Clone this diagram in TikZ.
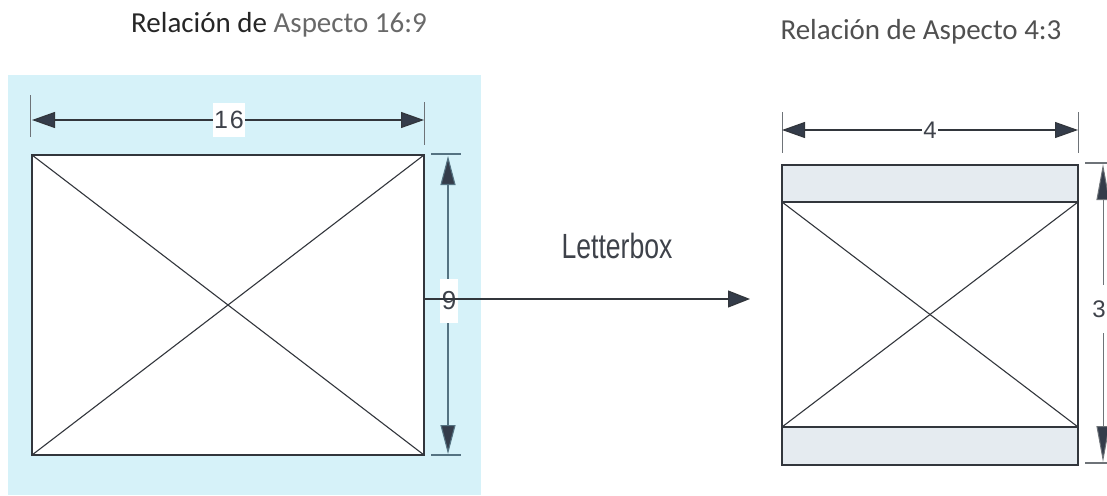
\documentclass[tikz,border=0pt]{standalone}
\usepackage{fontspec}
\setmainfont{Carlito}
\newfontfamily\arialf{Liberation Sans}
\usetikzlibrary{arrows.meta}
\definecolor{bgcyan}{RGB}{214,242,249}
\definecolor{barfill}{RGB}{229,235,240}
\definecolor{lineDark}{RGB}{50,54,60}
\definecolor{tipDark}{RGB}{52,60,74}
\definecolor{dimBlue}{RGB}{85,115,130}
\definecolor{extGray}{RGB}{110,115,120}
\definecolor{titleDark}{RGB}{38,38,38}
\definecolor{titleLight}{RGB}{105,105,105}
\definecolor{titleMid}{RGB}{80,80,80}
\definecolor{labelGray}{RGB}{62,66,74}
\tikzset{
  boxline/.style={draw=lineDark, line width=1.5pt},
  diagline/.style={draw=lineDark, line width=1.1pt},
  hdim/.style={draw=lineDark, line width=1.2pt, {Triangle[length=23pt,width=16pt,fill=tipDark]}-{Triangle[length=23pt,width=16pt,fill=tipDark]}},
  vdimA/.style={draw=dimBlue, line width=1.1pt, {Triangle[length=29pt,width=15pt,fill=tipDark]}-{Triangle[length=29pt,width=15pt,fill=tipDark]}},
  vdimB/.style={draw=extGray, line width=1pt, {Triangle[length=36pt,width=13pt,fill=tipDark]}-{Triangle[length=36pt,width=13pt,fill=tipDark]}},
  mainarrow/.style={draw=lineDark, line width=1.3pt, -{Triangle[length=22pt,width=17pt,fill=tipDark]}},
  extline/.style={draw=extGray, line width=0.9pt},
  tickA/.style={draw=dimBlue, line width=1.6pt},
  tickB/.style={draw=extGray, line width=1.2pt},
  dimlabel/.style={inner sep=1.5pt, text=labelGray, font=\arialf\fontsize{25}{28}\selectfont},
  titlestyle/.style={inner sep=0pt, anchor=base, font=\fontsize{29}{32}\selectfont},
}
\begin{document}
\begin{tikzpicture}[x=1pt,y=-1pt]
\useasboundingbox (0,0) rectangle (1107,495);
% cyan background
\fill[bgcyan] (8,75) rectangle (481,495);

% titles
\node[titlestyle] (t1) at (279,33) {\textcolor{titleDark}{Relación de} \textcolor{titleLight}{Aspecto 16:9}};
\node[titlestyle, text=titleMid] (t2) at (921,40) {Relación de Aspecto 4:3};

% left 16:9 box
\coordinate (L1) at (32,155);
\coordinate (L2) at (424,155);
\coordinate (L3) at (424,455);
\coordinate (L4) at (32,455);
\fill[white] (L1) rectangle (L3);
\draw[diagline] (L1) -- (L3);
\draw[diagline] (L4) -- (L2);
\draw[boxline] (L1) rectangle (L3);

% width dimension 16
\coordinate (e1a) at (30,95);
\coordinate (e1b) at (30,137);
\coordinate (e2a) at (424,102);
\coordinate (e2b) at (424,145);
\draw[extline] (e1a) -- (e1b);
\draw[extline] (e2a) -- (e2b);
\coordinate (d16a) at (32,120);
\coordinate (d16b) at (424,120);
\draw[hdim] (d16a) -- (d16b);
\node[dimlabel, fill=white, minimum height=34pt] (n16) at (229,120) {1\kern2pt6};

% height dimension 9
\coordinate (k1a) at (431,154);
\coordinate (k1b) at (461,154);
\coordinate (k2a) at (431,455);
\coordinate (k2b) at (461,455);
\draw[tickA] (k1a) -- (k1b);
\draw[tickA] (k2a) -- (k2b);
\coordinate (d9a) at (448,156);
\coordinate (d9b) at (448,454);
\draw[vdimA] (d9a) -- (d9b);
\node[dimlabel, fill=white, minimum height=44pt, inner xsep=2pt, font=\arialf\fontsize{26}{28}\selectfont] (n9) at (449,301) {9};

% letterbox arrow
\coordinate (arrS) at (424,299);
\coordinate (arrE) at (750,299);
\draw[mainarrow] (arrS) -- (arrE);
\node[inner sep=0pt, text=labelGray, font=\arialf\fontsize{35}{38}\selectfont] (lb) at (617,246) {\scalebox{0.76}[1]{Letterbox}};

% right 4:3 box
\coordinate (R1) at (782,165);
\coordinate (R2) at (1078,165);
\coordinate (R3) at (1078,465);
\coordinate (R4) at (782,465);
\coordinate (B1) at (1078,202);
\coordinate (B2) at (782,202);
\coordinate (B3) at (782,427);
\coordinate (B4) at (1078,427);
\fill[barfill] (R1) rectangle (B1);
\fill[barfill] (B3) rectangle (R3);
\draw[diagline] (B2) -- (B4);
\draw[diagline] (B3) -- (B1);
\draw[boxline] (B2) -- (B1);
\draw[boxline] (B3) -- (B4);
\draw[boxline] (R1) rectangle (R3);

% width dimension 4
\coordinate (f1a) at (782,112);
\coordinate (f1b) at (782,153);
\coordinate (f2a) at (1078,112);
\coordinate (f2b) at (1078,153);
\draw[extline] (f1a) -- (f1b);
\draw[extline] (f2a) -- (f2b);
\coordinate (d4a) at (782,130);
\coordinate (d4b) at (1078,130);
\draw[hdim] (d4a) -- (d4b);
\node[dimlabel, fill=white, font=\arialf\fontsize{24}{26}\selectfont] (n4) at (930,130) {4};

% height dimension 3
\coordinate (m1a) at (1085,163);
\coordinate (m1b) at (1110,163);
\coordinate (m2a) at (1085,463);
\coordinate (m2b) at (1110,463);
\draw[tickB] (m1a) -- (m1b);
\draw[tickB] (m2a) -- (m2b);
\coordinate (d3a) at (1103,164);
\coordinate (d3b) at (1103,462);
\draw[vdimB] (d3a) -- (d3b);
\node[dimlabel, fill=white, minimum height=48pt, inner xsep=0.5pt, font=\arialf\fontsize{24}{26}\selectfont] (n3) at (1099,309) {3};
\end{tikzpicture}
\end{document}
